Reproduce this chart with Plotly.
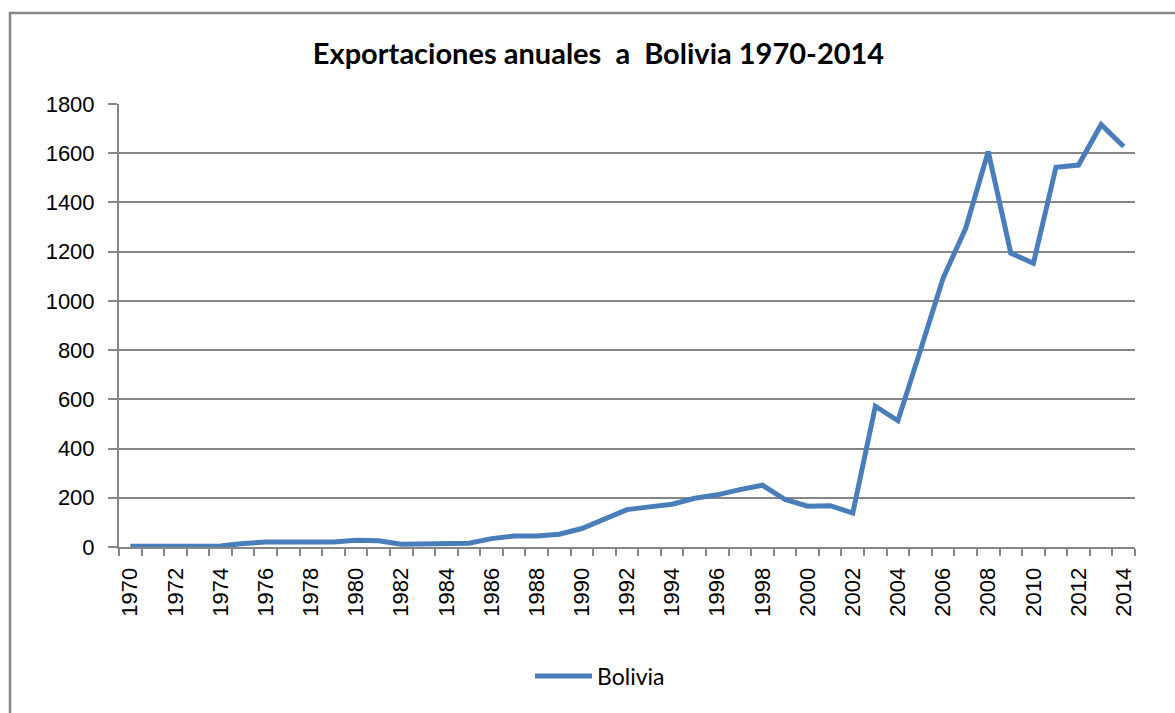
import plotly.graph_objects as go

# ---- data ----
years = list(range(1970, 2015))
bolivia = [3, 3, 3, 3, 4, 14, 20, 20, 18, 20,
           27, 25, 11, 12, 16, 15, 34, 45, 45, 52,
           75, 113, 152, 163, 174, 198, 212, 233, 251, 193,
           166, 168, 138, 572, 513, 800, 1092, 1295, 1607, 1194,
           1153, 1543, 1552, 1716, 1627]
label_years = [y for y in years if y % 2 == 0]
label_text = [str(y) for y in label_years]
y_ticks = list(range(0, 1801, 200))

title_text = "Exportaciones anuales  a  Bolivia 1970-2014"
series_name = "Bolivia"

W, H = 1175, 713
ML, MR, MT, MB = 119, 40, 104, 166
PW, PH = W - ML - MR, H - MT - MB

GRID = "#868686"
LINE = "#4A7EBB"

fig = go.Figure()
fig.add_trace(go.Scatter(
    x=years, y=bolivia, mode="lines", name=series_name,
    line=dict(color=LINE, width=5, shape="linear"),
))

fig.update_layout(
    width=W, height=H,
    margin=dict(l=ML, r=MR, t=MT, b=MB),
    paper_bgcolor="white", plot_bgcolor="white",
    title=dict(text="<b>" + title_text + "</b>", x=598.5 / W, xanchor="center",
               y=1 - 54 / H, yanchor="middle", xref="container", yref="container",
               font=dict(family="Lato", size=29, color="black")),
    showlegend=True,
    legend=dict(orientation="h", x=(530 - ML) / PW, xanchor="left",
                y=-(676 - (MT + PH)) / PH, yanchor="middle",
                font=dict(family="Lato", size=23, color="black"),
                itemwidth=57, bgcolor="rgba(0,0,0,0)"),
    xaxis=dict(
        range=[1969.5, 2014.5], tickmode="array", tickvals=label_years, ticktext=label_text,
        tickangle=-90, ticks="", showgrid=False, zeroline=False,
        showline=True, linecolor=GRID, linewidth=2,
        tickfont=dict(family="Liberation Sans", size=22, color="black"),
        ticklabelstandoff=10,
        minor=dict(ticks="outside", tick0=1969.5, dtick=1, ticklen=7, tickwidth=2,
                   tickcolor=GRID, showgrid=False),
        fixedrange=True,
    ),
    yaxis=dict(
        range=[0, 1800], tickmode="array", tickvals=y_ticks,
        ticks="outside", ticklen=9, tickwidth=2, tickcolor=GRID,
        showgrid=True, gridcolor=GRID, gridwidth=1.5, zeroline=False,
        showline=True, linecolor=GRID, linewidth=2,
        tickfont=dict(family="Liberation Sans", size=22, color="black"),
        ticklabelstandoff=9,
        fixedrange=True,
    ),
    shapes=[dict(type="rect", xref="paper", yref="paper",
                 x0=(10 - ML) / PW, x1=(W + 20 - ML) / PW,
                 y0=-(H + 20 - MT - PH) / PH, y1=(MT + PH - 13) / PH,
                 line=dict(color=GRID, width=2.5), fillcolor="rgba(0,0,0,0)", layer="below")],
)

fig.write_html("out.html", config={"displayModeBar": False},
               post_script="document.body.style.margin='0';document.body.style.overflow='hidden';")
